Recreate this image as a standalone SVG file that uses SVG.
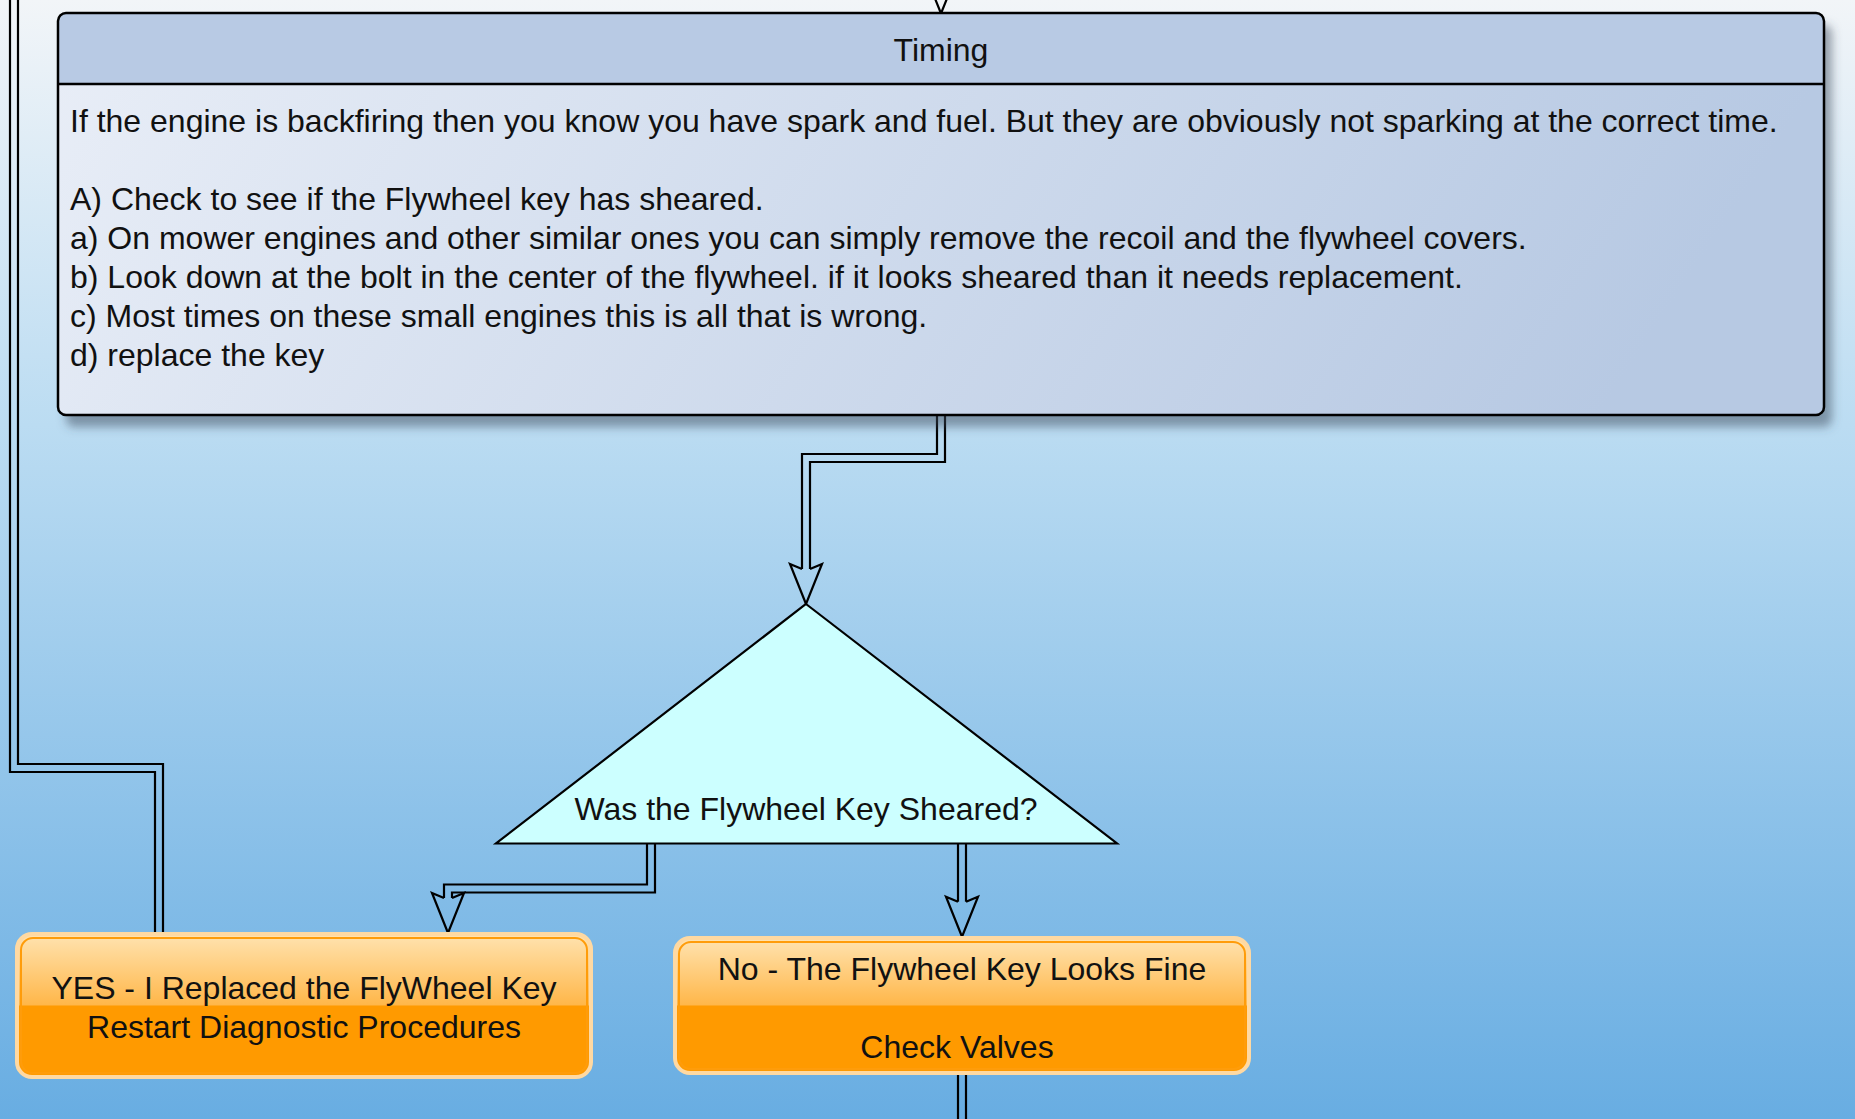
<svg xmlns="http://www.w3.org/2000/svg" width="1855" height="1119" viewBox="0 0 1855 1119">
<defs>
<linearGradient id="bg" x1="0" y1="0" x2="0" y2="1">
<stop offset="0" stop-color="#F2F5F8"/>
<stop offset="0.38" stop-color="#BBDCF2"/>
<stop offset="1" stop-color="#68ADE2"/>
</linearGradient>
<linearGradient id="body" x1="0" y1="0" x2="1" y2="0.15">
<stop offset="0" stop-color="#E9EEF7"/>
<stop offset="1" stop-color="#B7C9E3"/>
</linearGradient>
<linearGradient id="orTop" x1="0" y1="0" x2="0" y2="1">
<stop offset="0" stop-color="#FFE4B2"/>
<stop offset="1" stop-color="#FFB648"/>
</linearGradient>
<filter id="shadow" x="-5%" y="-5%" width="112%" height="130%">
<feDropShadow dx="8" dy="12" stdDeviation="5" flood-color="#3A4A5C" flood-opacity="0.5"/>
</filter>
<clipPath id="clipYes"><rect x="18" y="935" width="572" height="141" rx="14"/></clipPath>
<clipPath id="clipNo"><rect x="676" y="939" width="572" height="133" rx="14"/></clipPath>
</defs>
<style>
text{font-family:"Liberation Sans",Arial,sans-serif;font-size:32px;fill:#111}
.c{text-anchor:middle}
.wire{fill:none;stroke:#000;stroke-width:2.2;stroke-linejoin:miter}
.ah{fill:none;stroke:#000;stroke-width:2.2;stroke-linejoin:miter}
.obx{fill:none;stroke:#FFD9A2;stroke-width:4}
.ibx{fill:none;stroke:#FF9C0A;stroke-width:2}
</style>
<rect x="0" y="0" width="1855" height="1119" fill="url(#bg)"/>

<g id="connectors">
<path class="ah" d="M925,-26.5 L941,13.5 L957,-26.5"/>
<path class="wire" d="M937,415 V454 H802 V569"/>
<path class="wire" d="M945,415 V462 H810 V569"/>
<path class="ah" d="M802,569 L790,564 L806,604 L822,564 L810,569"/>
<path class="wire" d="M647,843.5 V884.5 H444 V898"/>
<path class="wire" d="M655,843.5 V892.5 H452 V898"/>
<path class="ah" d="M444,898 L432,893 L448,933 L464,893 L452,898"/>
<path class="wire" d="M958,843.5 V901.7"/>
<path class="wire" d="M966,843.5 V901.7"/>
<path class="ah" d="M958,901.7 L946,896.7 L962,936.7 L978,896.7 L966,901.7"/>
<path class="wire" d="M10,0 V772 H155 V933"/>
<path class="wire" d="M18,0 V764 H163 V933"/>
<path class="wire" d="M958,1074 V1119"/>
<path class="wire" d="M966,1074 V1119"/>
</g>

<g id="timing">
<g filter="url(#shadow)">
<rect x="58" y="13" width="1766" height="402" rx="8" fill="url(#body)"/>
</g>
<path d="M66,13 H1816 A8,8 0 0 1 1824,21 V84 H58 V21 A8,8 0 0 1 66,13 Z" fill="#B8CAE4"/>
<rect x="58" y="13" width="1766" height="402" rx="8" fill="none" stroke="#000" stroke-width="2.5"/>
<line x1="58" y1="84" x2="1824" y2="84" stroke="#000" stroke-width="2.5"/>
<text class="c" x="941" y="61">Timing</text>
<text x="70" y="132">If the engine is backfiring then you know you have spark and fuel. But they are obviously not sparking at the correct time.</text>
<text x="70" y="210">A) Check to see if the Flywheel key has sheared.</text>
<text x="70" y="249">a) On mower engines and other similar ones you can simply remove the recoil and the flywheel covers.</text>
<text x="70" y="288">b) Look down at the bolt in the center of the flywheel. if it looks sheared than it needs replacement.</text>
<text x="70" y="327">c) Most times on these small engines this is all that is wrong.</text>
<text x="70" y="366">d) replace the key</text>
</g>

<g id="decision">
<polygon points="806,604 1117,843.5 496,843.5" fill="#CCFFFF" stroke="#000" stroke-width="2.2" stroke-linejoin="miter"/>
<text class="c" x="806" y="820">Was the Flywheel Key Sheared?</text>
</g>

<g id="yes">
<g clip-path="url(#clipYes)">
<rect x="16" y="933" width="576" height="73" fill="url(#orTop)"/>
<rect x="16" y="1005.5" width="576" height="75" fill="#FF9A00"/>
</g>
<rect class="obx" x="17" y="934" width="574" height="143" rx="15"/>
<rect class="ibx" x="21" y="938" width="566" height="135" rx="12"/>
<text class="c" x="304" y="999">YES - I Replaced the FlyWheel Key</text>
<text class="c" x="304" y="1038">Restart Diagnostic Procedures</text>
</g>

<g id="no">
<g clip-path="url(#clipNo)">
<rect x="674" y="937" width="576" height="69" fill="url(#orTop)"/>
<rect x="674" y="1005.5" width="576" height="70" fill="#FF9A00"/>
</g>
<rect class="obx" x="675" y="938" width="574" height="135" rx="15"/>
<rect class="ibx" x="679" y="942" width="566" height="127" rx="12"/>
<text class="c" x="962" y="980">No - The Flywheel Key Looks Fine</text>
<text class="c" x="957" y="1058">Check Valves</text>
</g>
</svg>
